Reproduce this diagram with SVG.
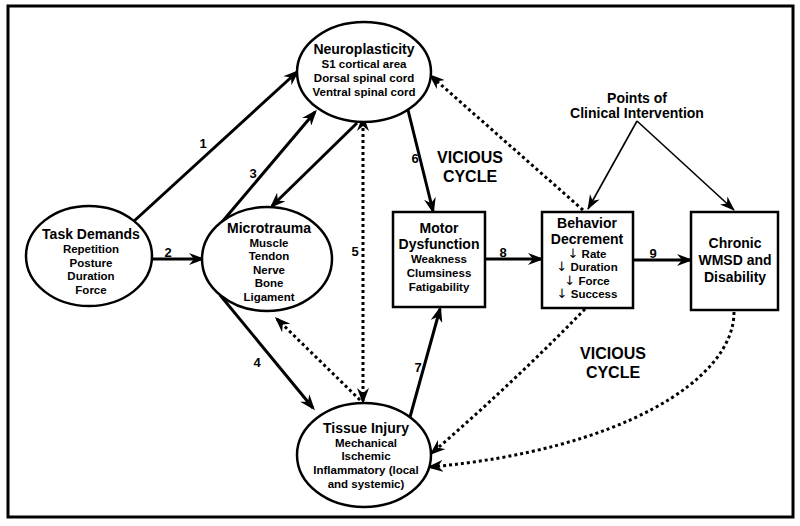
<svg xmlns="http://www.w3.org/2000/svg" width="800" height="526" viewBox="0 0 800 526">
<style>
text{font-family:"Liberation Sans",Arial,sans-serif;font-weight:bold;fill:#000;text-anchor:middle}
.t{font-size:14px}
.s{font-size:11.5px}
.v{font-size:16px}
.n{font-size:13px}
.ar{font-family:"DejaVu Sans",sans-serif;font-weight:normal;font-size:13px}
.node{fill:#fff;stroke:#000;stroke-width:2.5}
.sol{stroke:#000;stroke-width:3;fill:none}
.thin{stroke:#000;stroke-width:1.6;fill:none}
.dot{stroke:#000;stroke-width:3;fill:none;stroke-dasharray:3 3}
</style>
<defs>
<marker id="ah" markerWidth="16" markerHeight="12" refX="13" refY="6" orient="auto" markerUnits="userSpaceOnUse" viewBox="0 0 16 12"><path d="M0,0 L16,6 L0,12 L5,6 z" fill="#000"/></marker>
<marker id="ahs" markerWidth="16" markerHeight="12" refX="3" refY="6" orient="auto-start-reverse" markerUnits="userSpaceOnUse" viewBox="0 0 16 12"><path d="M0,0 L16,6 L0,12 L5,6 z" fill="#000"/></marker>
<marker id="aht" markerWidth="15" markerHeight="11" refX="14" refY="5.5" orient="auto" markerUnits="userSpaceOnUse" viewBox="0 0 15 11"><path d="M0,0 L15,5.5 L0,11 L4.5,5.5 z" fill="#000"/></marker>
</defs>
<rect x="8" y="6" width="785" height="511" fill="#fff" stroke="#000" stroke-width="3"/>
<g id="connectors">
<line class="sol" x1="133" y1="222" x2="297" y2="72" marker-end="url(#ah)"/>
<line class="sol" x1="152" y1="259" x2="202" y2="259" marker-end="url(#ah)"/>
<line class="sol" x1="222" y1="222" x2="315" y2="112" marker-end="url(#ah)"/>
<line class="sol" x1="357" y1="123" x2="272" y2="206" marker-end="url(#ah)"/>
<line class="sol" x1="220" y1="295" x2="313" y2="408" marker-end="url(#ah)"/>
<line class="dot" x1="363" y1="128" x2="363" y2="401" marker-start="url(#ahs)" marker-end="url(#ah)"/>
<line class="dot" x1="360" y1="400" x2="277" y2="319" marker-end="url(#ah)"/>
<line class="sol" x1="408" y1="110" x2="433" y2="211" marker-end="url(#ah)"/>
<line class="sol" x1="410" y1="417" x2="440" y2="309" marker-end="url(#ah)"/>
<line class="sol" x1="485" y1="259" x2="541" y2="259" marker-end="url(#ah)"/>
<line class="sol" x1="633" y1="260" x2="690" y2="260" marker-end="url(#ah)"/>
<line class="dot" x1="583" y1="210" x2="431" y2="76" marker-end="url(#ah)"/>
<path class="dot" d="M585,309 Q512,384 432,453" marker-end="url(#ah)"/>
<path class="dot" d="M734,312 C734,380 620,450 430,467" marker-end="url(#ah)"/>
<line class="thin" x1="637" y1="121" x2="588" y2="209" marker-end="url(#aht)"/>
<line class="thin" x1="637" y1="121" x2="734" y2="210" marker-end="url(#aht)"/>
<text class="n" x="203" y="148">1</text>
<text class="n" x="168" y="257">2</text>
<text class="n" x="253" y="178">3</text>
<text class="n" x="257" y="367">4</text>
<text class="n" x="355" y="256">5</text>
<text class="n" x="415" y="163">6</text>
<text class="n" x="418" y="372">7</text>
<text class="n" x="503" y="257">8</text>
<text class="n" x="653" y="258">9</text>
</g>
<g id="neuroplasticity">
<ellipse class="node" cx="364" cy="72" rx="67" ry="50"/>
<text class="t" x="364" y="54">Neuroplasticity</text>
<text class="s" x="364" y="68">S1 cortical area</text>
<text class="s" x="364" y="82">Dorsal spinal cord</text>
<text class="s" x="364" y="96">Ventral spinal cord</text>
</g>
<g id="task-demands">
<ellipse class="node" cx="89" cy="256" rx="63" ry="50"/>
<text class="t" x="91" y="239">Task Demands</text>
<text class="s" x="91" y="253">Repetition</text>
<text class="s" x="91" y="267">Posture</text>
<text class="s" x="91" y="280">Duration</text>
<text class="s" x="91" y="294">Force</text>
</g>
<g id="microtrauma">
<ellipse class="node" cx="267" cy="259" rx="65" ry="52"/>
<text class="t" x="269" y="233">Microtrauma</text>
<text class="s" x="269" y="247">Muscle</text>
<text class="s" x="269" y="260">Tendon</text>
<text class="s" x="269" y="274">Nerve</text>
<text class="s" x="269" y="287">Bone</text>
<text class="s" x="269" y="301">Ligament</text>
</g>
<g id="motor-dysfunction">
<rect class="node" x="393" y="212" width="92" height="95"/>
<text class="t" x="439" y="233">Motor</text>
<text class="t" x="439" y="249">Dysfunction</text>
<text class="s" x="439" y="263">Weakness</text>
<text class="s" x="439" y="277">Clumsiness</text>
<text class="s" x="439" y="291">Fatigability</text>
</g>
<g id="behavior-decrement">
<rect class="node" x="542" y="212" width="91" height="96"/>
<text class="t" x="587" y="228">Behavior</text>
<text class="t" x="587" y="244">Decrement</text>
<text class="s" x="587" y="258"><tspan class="ar">↓</tspan> Rate</text>
<text class="s" x="587" y="271"><tspan class="ar">↓</tspan> Duration</text>
<text class="s" x="587" y="285"><tspan class="ar">↓</tspan> Force</text>
<text class="s" x="587" y="298"><tspan class="ar">↓</tspan> Success</text>
</g>
<g id="chronic-wmsd">
<rect class="node" x="691" y="212" width="87" height="98"/>
<text class="t" x="735" y="248">Chronic</text>
<text class="t" x="735" y="265">WMSD and</text>
<text class="t" x="735" y="282">Disability</text>
</g>
<g id="tissue-injury">
<ellipse class="node" cx="364" cy="455" rx="67" ry="52"/>
<text class="t" x="366" y="433">Tissue Injury</text>
<text class="s" x="366" y="447">Mechanical</text>
<text class="s" x="366" y="460">Ischemic</text>
<text class="s" x="366" y="474">Inflammatory (local</text>
<text class="s" x="366" y="488">and systemic)</text>
</g>
<g id="labels">
<text class="v" x="470" y="163">VICIOUS</text>
<text class="v" x="470" y="182">CYCLE</text>
<text class="v" x="613" y="359">VICIOUS</text>
<text class="v" x="613" y="378">CYCLE</text>
<text class="t" x="637" y="103">Points of</text>
<text class="t" x="637" y="118">Clinical Intervention</text>
</g>
</svg>
